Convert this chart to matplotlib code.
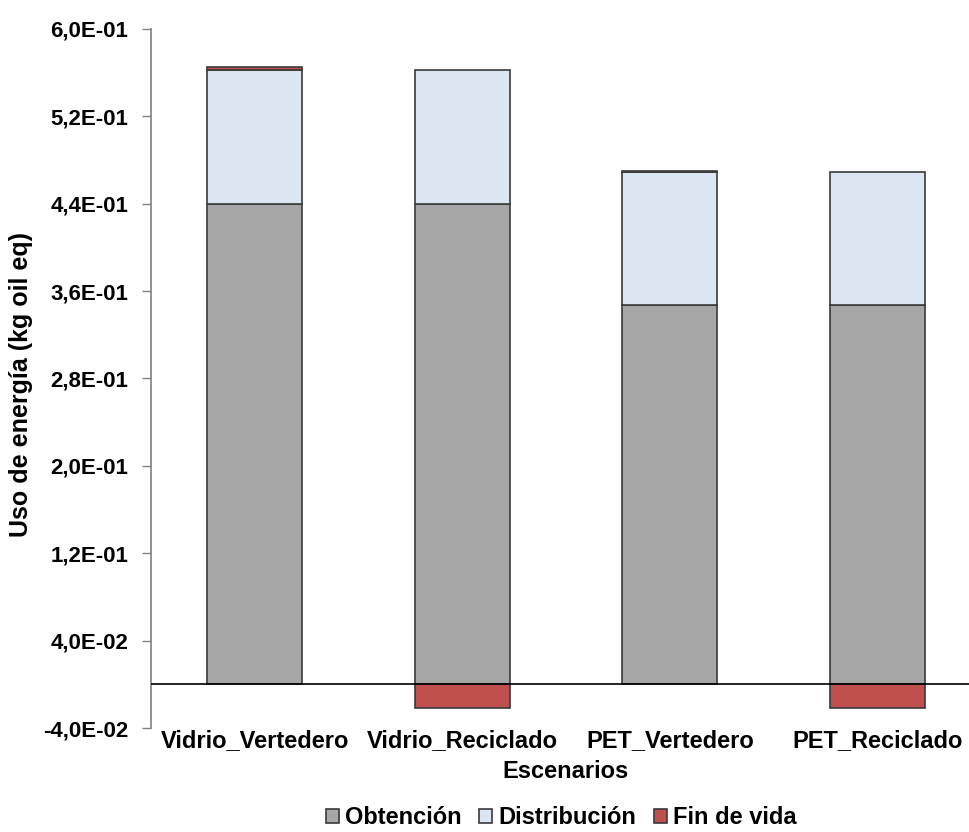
import matplotlib
matplotlib.use("Agg")
import matplotlib.pyplot as plt
import numpy as np

plt.rcParams['font.family'] = ['Liberation Sans', 'DejaVu Sans']
plt.rcParams['font.weight'] = 'bold'

categories = ["Vidrio_Vertedero", "Vidrio_Reciclado", "PET_Vertedero", "PET_Reciclado"]
obtencion = [0.440, 0.440, 0.3475, 0.3475]
distribucion = [0.1223, 0.1225, 0.1217, 0.1217]
fin_de_vida = [0.003, -0.022, 0.0008, -0.022]
series_names = ["Obtención", "Distribución", "Fin de vida"]
colors = ["#A6A6A6", "#DCE6F2", "#C0504D"]
yticks = [-0.04, 0.04, 0.12, 0.20, 0.28, 0.36, 0.44, 0.52, 0.60]

fig = plt.figure(figsize=(9.69, 8.32), dpi=100)
ax = fig.add_axes([151/969, 104/832, 830/969, 699/832])

x = np.arange(len(categories))
w = 0.457
edge = "#3A3A3A"
lw = 1.2
ax.bar(x, obtencion, w, color=colors[0], edgecolor=edge, linewidth=lw, label=series_names[0], zorder=2)
ax.bar(x, distribucion, w, bottom=obtencion, color=colors[1], edgecolor=edge, linewidth=lw, label=series_names[1], zorder=2)
fin_bottom = [o + d if f > 0 else 0 for o, d, f in zip(obtencion, distribucion, fin_de_vida)]
ax.bar(x, fin_de_vida, w, bottom=fin_bottom, color=colors[2], edgecolor=edge, linewidth=lw, label=series_names[2], zorder=2)

ax.axhline(0, color="black", linewidth=1.2, zorder=3)

ax.set_xlim(-0.5, len(categories) - 0.5)
ax.set_ylim(-0.04, 0.60)
ax.set_yticks(yticks)
ax.set_yticklabels([("%.1E" % v).replace(".", ",") for v in yticks], fontsize=16, fontweight='bold')
ax.set_xticks(x)
ax.set_xticklabels(categories, fontsize=17, fontweight='bold')
ax.tick_params(axis='x', length=0, pad=1)
ax.tick_params(axis='y', length=6.5, width=1, color="#808080", pad=10)

for s in ["top", "right", "bottom"]:
    ax.spines[s].set_visible(False)
ax.spines["left"].set_color("#808080")
ax.spines["left"].set_linewidth(1.2)

ax.set_ylabel("Uso de energía (kg oil eq)", fontsize=18, fontweight='bold')
ax.yaxis.set_label_coords(-0.142, 0.491)
ax.set_xlabel("Escenarios", fontsize=17, fontweight='bold')
ax.xaxis.set_label_coords(0.5, -0.046)

leg = fig.legend(loc="center", bbox_to_anchor=(561/969, 1 - 818/832), ncol=3, frameon=False,
                 prop={'size': 17, 'weight': 'bold'}, handlelength=0.56, handleheight=0.56,
                 handletextpad=0.25, columnspacing=0.75, borderpad=0)

fig.savefig("out.png", dpi=100)
